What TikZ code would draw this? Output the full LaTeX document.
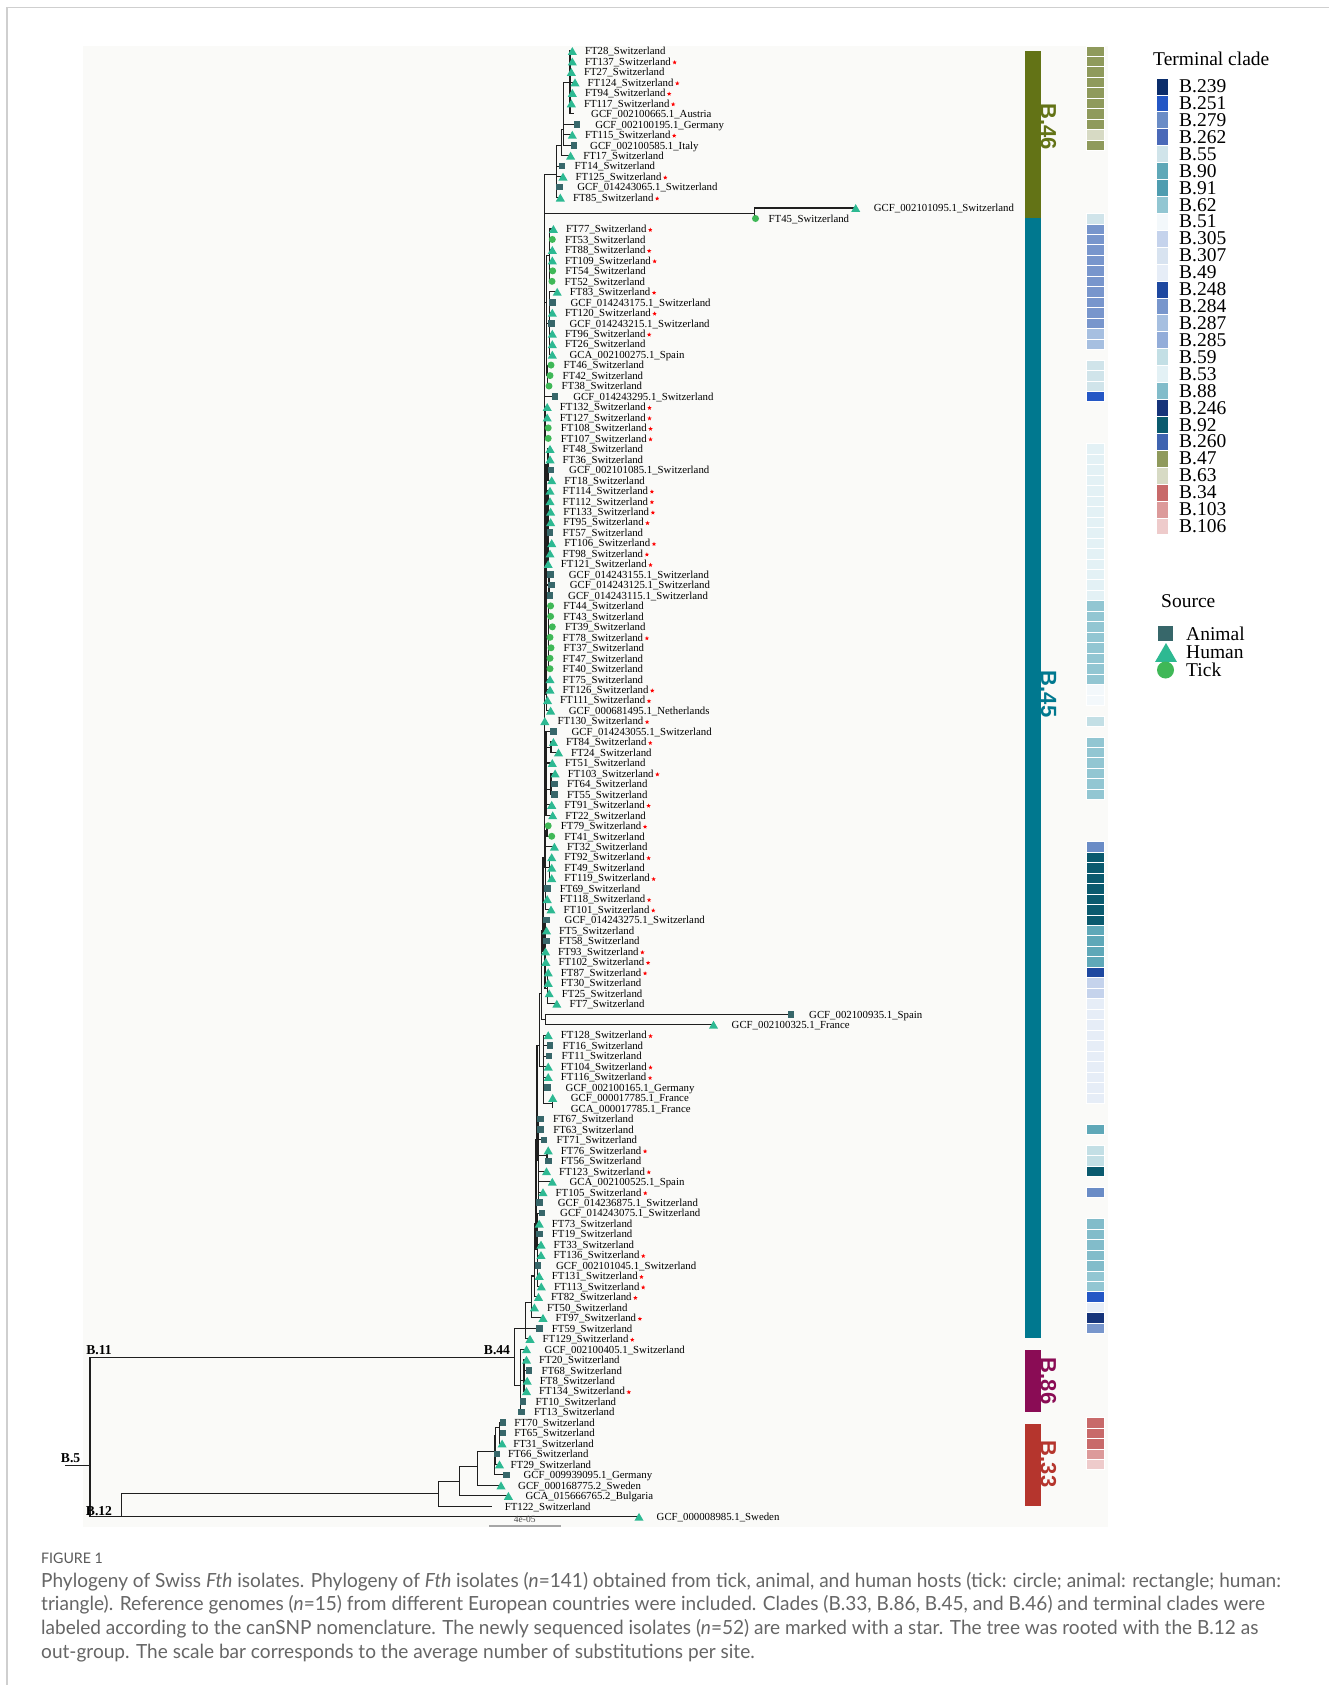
\documentclass[tikz,border=0pt]{standalone}
\usepackage{fontspec}
\setmainfont{Liberation Serif}
\newfontfamily\barfont{Liberation Sans}
\newfontfamily\capfont[FakeStretch=0.977]{Lato}
\usetikzlibrary{shapes.geometric}

\definecolor{humancol}{HTML}{2DB992}
\definecolor{animalcol}{HTML}{37676A}
\definecolor{tickcol}{HTML}{3FB857}
\definecolor{panelcol}{HTML}{FAFAF8}
\definecolor{framecol}{HTML}{CFCFCF}
\definecolor{capcol}{HTML}{666666}
\definecolor{barB46}{HTML}{637316}
\definecolor{barB45}{HTML}{00788F}
\definecolor{barB86}{HTML}{8A0C55}
\definecolor{barB33}{HTML}{B5352D}
\definecolor{cB239}{HTML}{0B2D6B}
\definecolor{cB251}{HTML}{2457C5}
\definecolor{cB279}{HTML}{6A8CC6}
\definecolor{cB262}{HTML}{4A69B8}
\definecolor{cB55}{HTML}{D0E4EA}
\definecolor{cB90}{HTML}{5FA8B8}
\definecolor{cB91}{HTML}{4F9DB0}
\definecolor{cB62}{HTML}{92C6D2}
\definecolor{cB51}{HTML}{F3F8FB}
\definecolor{cB305}{HTML}{C5D3EC}
\definecolor{cB307}{HTML}{D8E3F0}
\definecolor{cB49}{HTML}{E6EDF7}
\definecolor{cB248}{HTML}{1E48A0}
\definecolor{cB284}{HTML}{7896CC}
\definecolor{cB287}{HTML}{A6BFE0}
\definecolor{cB285}{HTML}{93ADD9}
\definecolor{cB59}{HTML}{C3DFE5}
\definecolor{cB53}{HTML}{E3F1F5}
\definecolor{cB88}{HTML}{82BCCA}
\definecolor{cB246}{HTML}{16347A}
\definecolor{cB92}{HTML}{0A5A6E}
\definecolor{cB260}{HTML}{3F64B0}
\definecolor{cB47}{HTML}{8F9A5C}
\definecolor{cB63}{HTML}{D7DAC4}
\definecolor{cB34}{HTML}{C86A6A}
\definecolor{cB103}{HTML}{DC9A9A}
\definecolor{cB106}{HTML}{EECBCB}

% row -> y
\newcommand{\ry}[1]{(51+10.47*(#1))}
\newcommand{\cladeedges}[2]{\foreach \c in {#2}{\draw[branch] (#1) |- (\c);}}

% row / x / source / label / new / label offset
\def\tiplist{
0/572.3/h/FT28\_Switzerland/0/12.5pt,
1/572.3/h/FT137\_Switzerland/1/12.5pt,
2/571.3/h/FT27\_Switzerland/0/12.5pt,
3/575/h/FT124\_Switzerland/1/12.5pt,
4/572.3/h/FT94\_Switzerland/1/12.5pt,
5/571.3/h/FT117\_Switzerland/1/12.5pt,
6/574/n/GCF\_002100665.1\_Austria/0/17pt,
7/577.1/a/GCF\_002100195.1\_Germany/0/18pt,
8/572.3/h/FT115\_Switzerland/1/12.5pt,
9/574/a/GCF\_002100585.1\_Italy/0/16pt,
10/570.6/h/FT17\_Switzerland/0/12.5pt,
11/562/a/FT14\_Switzerland/0/12.5pt,
12/563/h/FT125\_Switzerland/1/12.5pt,
13/559.2/a/GCF\_014243065.1\_Switzerland/0/18pt,
14/560.3/h/FT85\_Switzerland/1/12.5pt,
15/855.7/h/GCF\_002101095.1\_Switzerland/0/18pt,
16/755.5/t/FT45\_Switzerland/0/13pt,
17/553.4/h/FT77\_Switzerland/1/12.5pt,
18/552.3/t/FT53\_Switzerland/0/12.5pt,
19/552.3/h/FT88\_Switzerland/1/12.5pt,
20/552.3/h/FT109\_Switzerland/1/12.5pt,
21/552.7/t/FT54\_Switzerland/0/12.5pt,
22/552/t/FT52\_Switzerland/0/12.5pt,
23/557.2/h/FT83\_Switzerland/1/12.5pt,
24/552.3/a/GCF\_014243175.1\_Switzerland/0/18pt,
25/552.3/h/FT120\_Switzerland/1/12.5pt,
26/551.3/a/GCF\_014243215.1\_Switzerland/0/18pt,
27/552.3/h/FT96\_Switzerland/1/12.5pt,
28/552.3/h/FT26\_Switzerland/0/12.5pt,
29/552.3/h/GCA\_002100275.1\_Spain/0/17pt,
30/551/t/FT46\_Switzerland/0/12.5pt,
31/550/t/FT42\_Switzerland/0/12.5pt,
32/549/t/FT38\_Switzerland/0/12.5pt,
33/555.1/a/GCF\_014243295.1\_Switzerland/0/18pt,
34/547.2/h/FT132\_Switzerland/1/12.5pt,
35/547.2/h/FT127\_Switzerland/1/12.5pt,
36/548.2/t/FT108\_Switzerland/1/12.5pt,
37/548.2/t/FT107\_Switzerland/1/12.5pt,
38/550/h/FT48\_Switzerland/0/12.5pt,
39/550/h/FT36\_Switzerland/0/12.5pt,
40/551/a/GCF\_002101085.1\_Switzerland/0/18pt,
41/551.7/h/FT18\_Switzerland/0/12.5pt,
42/550/h/FT114\_Switzerland/1/12.5pt,
43/550/h/FT112\_Switzerland/1/12.5pt,
44/550.6/h/FT133\_Switzerland/1/12.5pt,
45/550.6/h/FT95\_Switzerland/1/12.5pt,
46/550/a/FT57\_Switzerland/0/12.5pt,
47/551.7/h/FT106\_Switzerland/1/12.5pt,
48/550/h/FT98\_Switzerland/1/12.5pt,
49/548.2/h/FT121\_Switzerland/1/12.5pt,
50/550.6/a/GCF\_014243155.1\_Switzerland/0/18pt,
51/551.7/a/GCF\_014243125.1\_Switzerland/0/18pt,
52/550/a/GCF\_014243115.1\_Switzerland/0/18pt,
53/550.6/t/FT44\_Switzerland/0/12.5pt,
54/550.6/t/FT43\_Switzerland/0/12.5pt,
55/552.3/t/FT39\_Switzerland/0/12.5pt,
56/550/t/FT78\_Switzerland/1/12.5pt,
57/551/t/FT37\_Switzerland/0/12.5pt,
58/550/t/FT47\_Switzerland/0/12.5pt,
59/550/t/FT40\_Switzerland/0/12.5pt,
60/550/h/FT75\_Switzerland/0/12.5pt,
61/550/h/FT126\_Switzerland/1/12.5pt,
62/547.5/h/FT111\_Switzerland/1/12.5pt,
63/550.6/h/GCF\_000681495.1\_Netherlands/0/18pt,
64/544.8/h/FT130\_Switzerland/1/12.5pt,
65/553.4/a/GCF\_014243055.1\_Switzerland/0/18pt,
66/553.4/h/FT84\_Switzerland/1/12.5pt,
67/558.5/h/FT24\_Switzerland/0/12.5pt,
68/552.3/h/FT51\_Switzerland/0/12.5pt,
69/555.1/h/FT103\_Switzerland/1/12.5pt,
70/554.4/a/FT64\_Switzerland/0/12.5pt,
71/554.4/a/FT55\_Switzerland/0/12.5pt,
72/551.7/h/FT91\_Switzerland/1/12.5pt,
73/552.7/h/FT22\_Switzerland/0/12.5pt,
74/548.2/t/FT79\_Switzerland/1/12.5pt,
75/551.7/t/FT41\_Switzerland/0/12.5pt,
76/554.4/h/FT32\_Switzerland/0/12.5pt,
77/551.7/h/FT92\_Switzerland/1/12.5pt,
78/551.7/h/FT49\_Switzerland/0/12.5pt,
79/551.7/h/FT119\_Switzerland/1/12.5pt,
80/547.2/a/FT69\_Switzerland/0/12.5pt,
81/547.2/h/FT118\_Switzerland/1/12.5pt,
82/551/h/FT101\_Switzerland/1/12.5pt,
83/546.5/a/GCF\_014243275.1\_Switzerland/0/18pt,
84/546.5/h/FT5\_Switzerland/0/12.5pt,
85/546.5/a/FT58\_Switzerland/0/12.5pt,
86/545.5/h/FT93\_Switzerland/1/12.5pt,
87/545.8/h/FT102\_Switzerland/1/12.5pt,
88/548.2/h/FT87\_Switzerland/1/12.5pt,
89/548.2/h/FT30\_Switzerland/0/12.5pt,
90/549.2/h/FT25\_Switzerland/0/12.5pt,
91/556.8/h/FT7\_Switzerland/0/12.5pt,
92/791/a/GCF\_002100935.1\_Spain/0/18pt,
93/713.5/h/GCF\_002100325.1\_France/0/18pt,
94/548.2/h/FT128\_Switzerland/1/12.5pt,
95/550/a/FT16\_Switzerland/0/12.5pt,
96/549/a/FT11\_Switzerland/0/12.5pt,
97/548.2/h/FT104\_Switzerland/1/12.5pt,
98/548.2/h/FT116\_Switzerland/1/12.5pt,
99/547.5/a/GCF\_002100165.1\_Germany/0/18pt,
100/552.7/h/GCF\_000017785.1\_France/0/18pt,
101/552.7/n/GCA\_000017785.1\_France/0/18pt,
102/540.3/a/FT67\_Switzerland/0/12.5pt,
103/540.6/a/FT63\_Switzerland/0/12.5pt,
104/544/a/FT71\_Switzerland/0/12.5pt,
105/548.2/h/FT76\_Switzerland/1/12.5pt,
106/548.2/a/FT56\_Switzerland/0/12.5pt,
107/546.5/h/FT123\_Switzerland/1/12.5pt,
108/552.3/h/GCA\_002100525.1\_Spain/0/17pt,
109/543/h/FT105\_Switzerland/1/12.5pt,
110/539.6/a/GCF\_014236875.1\_Switzerland/0/18pt,
111/542/a/GCF\_014243075.1\_Switzerland/0/18pt,
112/539.2/h/FT73\_Switzerland/0/12.5pt,
113/539.2/a/FT19\_Switzerland/0/12.5pt,
114/541/h/FT33\_Switzerland/0/12.5pt,
115/541/h/FT136\_Switzerland/1/12.5pt,
116/537.9/a/GCF\_002101045.1\_Switzerland/0/18pt,
117/539.2/h/FT131\_Switzerland/1/12.5pt,
118/541.3/h/FT113\_Switzerland/1/12.5pt,
119/538.5/h/FT82\_Switzerland/1/12.5pt,
120/534.4/h/FT50\_Switzerland/0/12.5pt,
121/543/h/FT97\_Switzerland/1/12.5pt,
122/539.2/a/FT59\_Switzerland/0/12.5pt,
123/530/h/FT129\_Switzerland/1/12.5pt,
124/526.5/h/GCF\_002100405.1\_Switzerland/0/18pt,
125/526.5/h/FT20\_Switzerland/0/12.5pt,
126/528.9/a/FT68\_Switzerland/0/12.5pt,
127/527.2/h/FT8\_Switzerland/0/12.5pt,
128/526.5/h/FT134\_Switzerland/1/12.5pt,
129/523/a/FT10\_Switzerland/0/12.5pt,
130/521.4/a/FT13\_Switzerland/0/12.5pt,
131/503.1/a/FT70\_Switzerland/0/11pt,
132/503.1/a/FT65\_Switzerland/0/11pt,
133/502.1/h/FT31\_Switzerland/0/11pt,
134/496.9/a/FT66\_Switzerland/0/11pt,
135/499.5/h/FT29\_Switzerland/0/11pt,
136/506.3/a/GCF\_009939095.1\_Germany/0/17pt,
137/501/h/GCF\_000168775.2\_Sweden/0/17pt,
138/508.4/h/GCA\_015666765.2\_Bulgaria/0/17pt,
139/491.6/n/FT122\_Switzerland/0/13pt,
140/639/h/GCF\_000008985.1\_Sweden/0/17.5pt}

\begin{document}
\begin{tikzpicture}[x=1pt, y=-1pt,
  branch/.style={line width=1.1pt, black!88},
  sym-h/.style={regular polygon, regular polygon sides=3, fill=humancol, minimum size=10.5pt, inner sep=0pt, yshift=-1.3pt},
  sym-a/.style={rectangle, fill=animalcol, minimum size=6.6pt, inner sep=0pt},
  sym-t/.style={circle, fill=tickcol, minimum size=7pt, inner sep=0pt},
  sym-n/.style={inner sep=0pt, minimum size=0pt},
  tiplabel/.style={anchor=base west, inner sep=0pt, font=\fontsize{10.8}{12}\selectfont},
  newmark/.style={star, star points=5, star point ratio=2.3, fill=red, minimum size=4.5pt, inner sep=0pt},
  nodelabel/.style={font=\bfseries\fontsize{13.6}{15}\selectfont, inner sep=0pt},
  cellbox/.style={draw=white, line width=0.5pt},
  cladetext/.style={font=\barfont\bfseries\fontsize{22}{24}\selectfont, rotate=-90, inner sep=0pt},
  legtext/.style={anchor=west, inner sep=0pt, font=\fontsize{19.5}{21}\selectfont},
  captext/.style={anchor=base west, inner sep=0pt, text=capcol, font=\capfont\fontsize{19.5}{21}\selectfont},
]
\useasboundingbox (0,0) rectangle (1329,1685);
\fill[white] (0,0) rectangle (1329,1685);
\draw[framecol, line width=1.4pt] (7,1685) -- (7,7.5) -- (1329,7.5);
\fill[panelcol] (83,46) rectangle (1107.7,1526.7);

% terminal clade strip
\foreach \a/\b/\col in {0/7/cB47, 8/8/cB63, 9/9/cB47, 16/16/cB55, 17/26/cB284, 27/28/cB287,
    30/32/cB55, 33/33/cB251, 38/52/cB53, 53/60/cB62, 61/62/cB51, 64/64/cB59, 66/71/cB62,
    76/76/cB279, 77/83/cB92, 84/87/cB90, 88/88/cB248, 89/90/cB305, 91/100/cB49, 103/103/cB90,
    105/106/cB59, 107/107/cB92, 109/109/cB279, 112/116/cB88, 117/118/cB62, 119/119/cB251,
    120/120/cB49, 121/121/cB246, 122/122/cB284, 131/133/cB34, 134/134/cB103, 135/135/cB106}
  \foreach \k in {\a,...,\b}
    \draw[cellbox, fill=\col] (1086,{\ry{\k}-5.235}) rectangle (1104,{\ry{\k}+5.235});

% clade bars
\fill[barB46] (1025,51) rectangle (1040.5,218.5);
\fill[barB45] (1025,218.5) rectangle (1040.5,1338);
\fill[barB86] (1025,1349.5) rectangle (1040.5,1411.5);
\fill[barB33] (1025,1423.5) rectangle (1040.5,1505.5);
\node[cladetext, text=barB46] (lbB46) at (1048.5,127) {B.46};
\node[cladetext, text=barB45] (lbB45) at (1048.5,694) {B.45};
\node[cladetext, text=barB86] (lbB86) at (1048.5,1381) {B.86};
\node[cladetext, text=barB33] (lbB33) at (1048.5,1464) {B.33};

% tips
\foreach \rw/\px/\sy/\lab/\nw/\off in \tiplist
  \coordinate (t\rw) at (\px,{\ry{\rw}});

% inner nodes
\coordinate (nD) at (570,{\ry{3}});
\coordinate (nC) at (563.7,{\ry{7.5}});
\coordinate (nB) at (561.3,{\ry{9}});
\coordinate (nA) at (556.8,{\ry{11.8}});
\coordinate (nE) at (754.8,{\ry{15.5}});
\coordinate (nC1a) at (549.5,{\ry{19.5}});
\coordinate (nC1b) at (549.8,{\ry{26}});
\coordinate (nC1c) at (547.5,{\ry{31}});
\coordinate (nC1) at (546.5,{\ry{24}});
\coordinate (nC2) at (545.8,{\ry{35.5}});
\coordinate (nC3a) at (548,{\ry{39.5}});
\coordinate (nC3b) at (548,{\ry{45.5}});
\coordinate (nC3c) at (549,{\ry{51}});
\coordinate (nC3d) at (548.5,{\ry{56}});
\coordinate (nC3e) at (546.8,{\ry{61.5}});
\coordinate (nC3) at (546,{\ry{50}});
\coordinate (nC4a) at (551,{\ry{66.5}});
\coordinate (nC4b) at (551,{\ry{70.5}});
\coordinate (nC4) at (546,{\ry{69}});
\coordinate (nC5a) at (547,{\ry{74.5}});
\coordinate (nC5b) at (549.5,{\ry{78}});
\coordinate (nC5) at (545.8,{\ry{78}});
\coordinate (nTrunk) at (544.5,{\ry{77}});
\coordinate (nC6a) at (547.5,{\ry{89.5}});
\coordinate (nC6) at (545,{\ry{86}});
\coordinate (nA8) at (543,{\ry{84}});
\coordinate (nSF) at (545.5,{\ry{92.5}});
\coordinate (nA7) at (541.5,{\ry{90}});
\coordinate (nP) at (552.7,{\ry{100.5}});
\coordinate (nC7) at (543.5,{\ry{97}});
\coordinate (nA6) at (539.5,{\ry{95}});
\coordinate (nC8a) at (547,{\ry{105.5}});
\coordinate (nC8) at (538.8,{\ry{106}});
\coordinate (nA5) at (537,{\ry{104}});
\coordinate (nC9) at (537.4,{\ry{114.5}});
\coordinate (nA4) at (536,{\ry{112}});
\coordinate (nA3) at (534.5,{\ry{117}});
\coordinate (nA2) at (531.7,{\ry{119.5}});
\coordinate (nA1) at (525.8,{\ry{122}});
\coordinate (nB86s) at (524,{\ry{127}});
\coordinate (nB86) at (520.6,{\ry{127.5}});
\coordinate (nB44) at (514.4,1357.7);
\coordinate (nK) at (499.5,{\ry{131.5}});
\coordinate (nJ) at (495.8,{\ry{132.2}});
\coordinate (nI) at (494.2,{\ry{133.8}});
\coordinate (nH) at (477.5,{\ry{135.2}});
\coordinate (nG) at (459.2,{\ry{136.6}});
\coordinate (nF) at (438.3,{\ry{137.8}});
\coordinate (nB12) at (121.9,{\ry{140}});
\coordinate (nB5) at (90,1465.7);
\coordinate (nRoot) at (65.4,1465.7);

% branches
\cladeedges{nD}{t0,t1,t2,t3,t4,t5,t6}
\cladeedges{nC}{nD,t7,t8,t9}
\cladeedges{nB}{nC,t10}
\cladeedges{nA}{nB,t11,t12,t13,t14}
\cladeedges{nE}{t15,t16}
\cladeedges{nC1a}{t17,t18,t19,t20,t21,t22}
\cladeedges{nC1b}{t23,t24,t25,t26,t27,t28,t29}
\cladeedges{nC1c}{t30,t31,t32}
\cladeedges{nC1}{nC1a,nC1b,nC1c}
\cladeedges{nC2}{t34,t35,t36,t37}
\cladeedges{nC3a}{t38,t39,t40,t41}
\cladeedges{nC3b}{t42,t43,t44,t45,t46,t47,t48,t49}
\cladeedges{nC3c}{t50,t51,t52}
\cladeedges{nC3d}{t53,t54,t55,t56,t57,t58,t59}
\cladeedges{nC3e}{t60,t61,t62,t63}
\cladeedges{nC3}{nC3a,nC3b,nC3c,nC3d,nC3e}
\cladeedges{nC4a}{t66,t67}
\cladeedges{nC4b}{t69,t70,t71}
\cladeedges{nC4}{t65,nC4a,t68,nC4b,t72,t73}
\cladeedges{nC5a}{t74,t75}
\cladeedges{nC5b}{t77,t78,t79}
\cladeedges{nC5}{nC5a,t76,nC5b,t80,t81,t82}
\cladeedges{nTrunk}{nA,nE,nC1,t33,nC2,nC3,t64,nC4,nC5}
\cladeedges{nC6a}{t88,t89,t90,t91}
\cladeedges{nC6}{t83,t84,t85,t86,t87,nC6a}
\cladeedges{nA8}{nTrunk,nC6}
\cladeedges{nSF}{t92,t93}
\cladeedges{nA7}{nA8,nSF}
\cladeedges{nP}{t100,t101}
\cladeedges{nC7}{t94,t95,t96,t97,t98,t99,nP}
\cladeedges{nA6}{nA7,nC7}
\cladeedges{nC8a}{t105,t106}
\cladeedges{nC8}{t102,t103,t104,nC8a,t107,t108,t109,t110}
\cladeedges{nA5}{nA6,nC8}
\cladeedges{nC9}{t111,t112,t113,t114,t115,t116,t117,t118}
\cladeedges{nA4}{nA5,nC9}
\cladeedges{nA3}{nA4,t119}
\cladeedges{nA2}{nA3,t120,t121}
\cladeedges{nA1}{nA2,t122,t123}
\cladeedges{nB86s}{t125,t126,t127,t128}
\cladeedges{nB86}{t124,nB86s,t129,t130}
\cladeedges{nB44}{nA1,nB86}
\cladeedges{nK}{t131,t132,t133}
\cladeedges{nJ}{nK,t134,t135}
\cladeedges{nI}{nJ,t136}
\cladeedges{nH}{nI,t137}
\cladeedges{nG}{nH,t138}
\cladeedges{nF}{nG,t139}
\cladeedges{nB12}{nF,t140}
\cladeedges{nB5}{nB44,nB12}
\draw[branch] (nRoot) -- (nB5);

% symbols and labels
\foreach \rw/\px/\sy/\lab/\nw/\off in \tiplist {
  \node[sym-\sy] (s\rw) at (t\rw) {};
  \node[tiplabel] (l\rw) at ([xshift=\off, yshift=-3.8pt]t\rw) {\lab};
  \ifnum\nw=1 \node[newmark] (m\rw) at ([xshift=3.6pt, yshift=2.8pt]l\rw.base east) {};\fi
}

\node[nodelabel] (lbB5) at (70.6,1458.3) {B.5};
\node[nodelabel] (lbB11) at (99,1350.5) {B.11};
\node[nodelabel] (lbB12) at (99,1511.5) {B.12};
\node[nodelabel] (lbB44) at (497,1350) {B.44};

% scale bar
\draw[gray!70, line width=1.8pt] (489,1526.2) -- (560.7,1526.2);
\node[inner sep=0pt, text=black!70, font=\fontsize{9.5}{10}\selectfont] (scalelab) at (524.8,1519.5) {4e-05};

% legend
\node[legtext] (ttclade) at (1153,59) {Terminal clade};
\foreach \lab/\col [count=\k from 0] in {B.239/cB239, B.251/cB251, B.279/cB279, B.262/cB262,
    B.55/cB55, B.90/cB90, B.91/cB91, B.62/cB62, B.51/cB51, B.305/cB305, B.307/cB307, B.49/cB49,
    B.248/cB248, B.284/cB284, B.287/cB287, B.285/cB285, B.59/cB59, B.53/cB53, B.88/cB88,
    B.246/cB246, B.92/cB92, B.260/cB260, B.47/cB47, B.63/cB63, B.34/cB34, B.103/cB103, B.106/cB106} {
  \draw[cellbox, fill=\col] (1156,{77.85+16.92*\k}) rectangle (1168,{77.85+16.92*(\k+1)});
  \node[legtext] (leg\k) at (1179,{86.3+16.92*\k}) {\lab};
}
\node[legtext] (tsource) at (1161,601) {Source};
\node[sym-a, minimum size=15pt] (srcA) at (1165.5,633.4) {};
\node[sym-h, minimum size=25pt, yshift=-1.8pt] (srcH) at (1166,652.4) {};
\node[sym-t, minimum size=17pt] (srcT) at (1165.5,670) {};
\node[legtext] (lsrcA) at (1186,633.4) {Animal};
\node[legtext] (lsrcH) at (1186,652.4) {Human};
\node[legtext] (lsrcT) at (1186,670) {Tick};

% caption
\node[anchor=base west, inner sep=0pt, text=black!65, font=\capfont\fontsize{14.5}{16}\selectfont] (figno) at (41,1563) {FIGURE 1};
\node[captext] (cap1) at (41,1587) {Phylogeny of Swiss \textit{Fth} isolates. Phylogeny of \textit{Fth} isolates (\textit{n}=141) obtained from tick, animal, and human hosts (tick: circle; animal: rectangle; human:};
\node[captext] (cap2) at (41,1610.5) {triangle). Reference genomes (\textit{n}=15) from different European countries were included. Clades (B.33, B.86, B.45, and B.46) and terminal clades were};
\node[captext] (cap3) at (41,1634.3) {labeled according to the canSNP nomenclature. The newly sequenced isolates (\textit{n}=52) are marked with a star. The tree was rooted with the B.12 as};
\node[captext] (cap4) at (41,1658) {out-group. The scale bar corresponds to the average number of substitutions per site.};
\end{tikzpicture}
\end{document}
